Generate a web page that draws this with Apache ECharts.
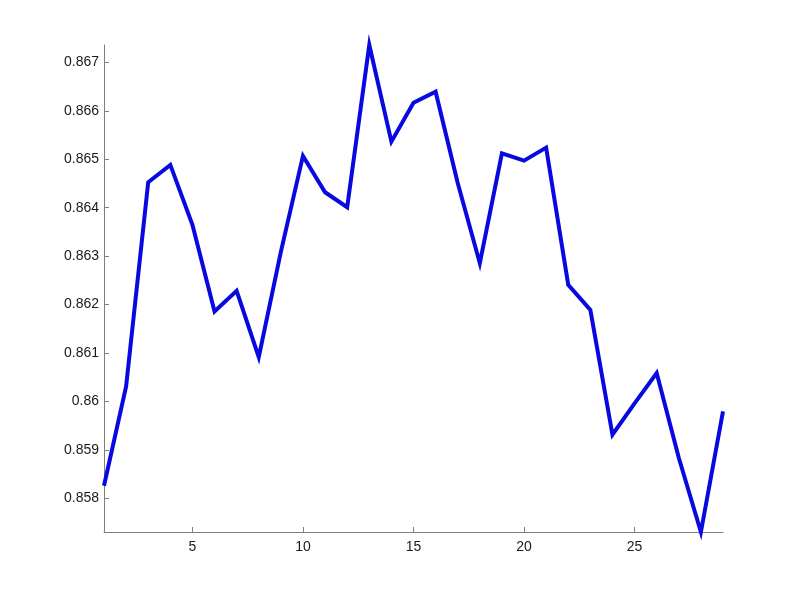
<!DOCTYPE html>
<html>
<head>
<meta charset="utf-8">
<script src="https://cdn.jsdelivr.net/npm/echarts@6/dist/echarts.min.js"></script>
<style>
html,body{margin:0;padding:0;background:#fff;}
#c{width:799px;height:599px;}
</style>
</head>
<body>
<div id="c"></div>
<script>
var xValues = [1,2,3,4,5,6,7,8,9,10,11,12,13,14,15,16,17,18,19,20,21,22,23,24,25,26,27,28,29];
var yValues = [0.858262,0.86031,0.864525,0.864882,0.863645,0.861857,0.862284,0.860916,0.863088,0.865068,
               0.864319,0.86401,0.867357,0.865363,0.866167,0.866394,0.86451,0.862855,0.865123,0.864971,
               0.865239,0.862407,0.861892,0.859314,0.859963,0.860586,0.85884,0.857307,0.859794];
var xTicks = [5,10,15,20,25];
var yTicks = [0.858,0.859,0.86,0.861,0.862,0.863,0.864,0.865,0.866,0.867];

var chart = echarts.init(document.getElementById('c'), null, {renderer:'canvas'});
var axisCol = '#7f7f7f';
var fontFam = '"Liberation Sans", Arial, sans-serif';
chart.setOption({
  animation:false,
  backgroundColor:'#ffffff',
  grid:{left:104,right:76,top:45,bottom:67,containLabel:false},
  xAxis:{
    type:'value',
    min:xValues[0], max:xValues[xValues.length-1],
    axisLine:{show:true,lineStyle:{color:axisCol,width:1}},
    axisTick:{show:true,inside:true,length:5,customValues:xTicks,lineStyle:{color:axisCol}},
    axisLabel:{customValues:xTicks,color:'#1a1a1a',fontSize:14,fontFamily:fontFam,margin:8},
    splitLine:{show:false}
  },
  yAxis:{
    type:'value',
    min:Math.min.apply(null,yValues), max:Math.max.apply(null,yValues),
    axisLine:{show:true,lineStyle:{color:axisCol,width:1}},
    axisTick:{show:true,inside:true,length:5,customValues:yTicks,lineStyle:{color:axisCol}},
    axisLabel:{customValues:yTicks,color:'#1a1a1a',fontSize:14,fontFamily:fontFam,margin:5,
      formatter:function(v){return String(+(+v).toFixed(3));}},
    splitLine:{show:false}
  },
  series:[{
    type:'line',
    data:xValues.map(function(x,i){return [x,yValues[i]];}),
    showSymbol:false,
    symbol:'none',
    lineStyle:{color:'#0808e0',width:4,join:'miter'},
    clip:false
  }]
});
</script>
</body>
</html>
